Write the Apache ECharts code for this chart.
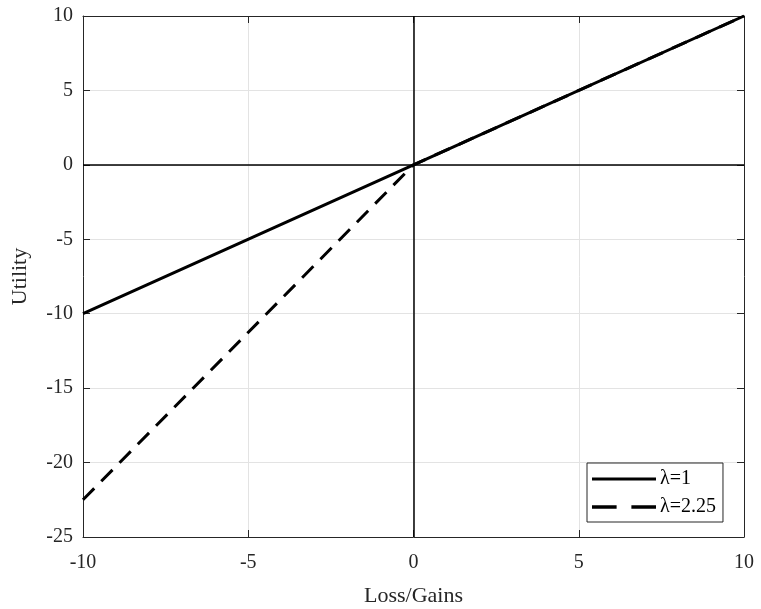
<!DOCTYPE html>
<html>
<head>
<meta charset="utf-8">
<script src="https://cdn.jsdelivr.net/npm/echarts@6/dist/echarts.min.js"></script>
<style>
  html, body { margin: 0; padding: 0; background: #fff; }
  #main { width: 761px; height: 609px; }
</style>
</head>
<body>
<div id="main"></div>
<script>
// data
var gains = [-10, 0, 10];
var utilityLambda1 = [-10, 0, 10];
var utilityLambda225 = [-22.5, 0, 10];
var seriesNames = ['\u03bb=1', '\u03bb=2.25'];

var font = 'Liberation Serif';
var dark = '#262626';

function pairs(xs, ys) {
  return xs.map(function (x, i) { return [x, ys[i]]; });
}

var chart = echarts.init(document.getElementById('main'));

var tickStyle = { show: true, inside: true, length: 7, lineStyle: { color: dark, width: 1 } };

var option = {
  animation: false,
  backgroundColor: '#fff',
  grid: { left: 83, right: 17, top: 16, bottom: 72, containLabel: false, outerBoundsMode: 'none' },
  legend: {
    orient: 'vertical',
    left: 587,
    top: 463,
    padding: [6, 7, 5, 5],
    itemGap: 8,
    itemWidth: 64,
    itemHeight: 16,
    borderColor: dark,
    borderWidth: 1,
    borderRadius: 0,
    backgroundColor: '#fff',
    textStyle: { fontFamily: font, fontSize: 20, color: '#000', padding: [0, 0, 0, -1] },
    data: [
      { name: seriesNames[0], icon: 'path://M0,7 L64,7 L64,10 L0,10 Z' },
      { name: seriesNames[1], icon: 'path://M0,7 L20,7 L20,10 L0,10 Z M32,7 L52,7 L52,10 L32,10 Z' }
    ]
  },
  xAxis: [
    {
      type: 'value', min: -10, max: 10, interval: 5, position: 'bottom',
      name: 'Loss/Gains', nameLocation: 'middle', nameGap: 48,
      nameTextStyle: { fontFamily: font, fontSize: 22, color: dark },
      axisLine: { show: true, onZero: false, lineStyle: { color: dark, width: 1 } },
      axisTick: tickStyle,
      axisLabel: { fontFamily: font, fontSize: 20, color: dark, margin: 16 },
      splitLine: { show: true, lineStyle: { color: '#e3e3e3', width: 1 } }
    },
    {
      type: 'value', min: -10, max: 10, interval: 5, position: 'top',
      axisLine: { show: true, onZero: false, lineStyle: { color: dark, width: 1 } },
      axisTick: tickStyle,
      axisLabel: { show: false },
      splitLine: { show: false }
    }
  ],
  yAxis: [
    {
      type: 'value', min: -25, max: 10, interval: 5, position: 'left',
      name: 'Utility', nameLocation: 'middle', nameGap: 52,
      nameTextStyle: { fontFamily: font, fontSize: 22, color: dark },
      axisLine: { show: true, onZero: false, lineStyle: { color: dark, width: 1 } },
      axisTick: tickStyle,
      axisLabel: { fontFamily: font, fontSize: 20, color: dark, margin: 10 },
      splitLine: { show: true, lineStyle: { color: '#e3e3e3', width: 1 } }
    },
    {
      type: 'value', min: -25, max: 10, interval: 5, position: 'right',
      axisLine: { show: true, onZero: false, lineStyle: { color: dark, width: 1 } },
      axisTick: tickStyle,
      axisLabel: { show: false },
      splitLine: { show: false }
    }
  ],
  series: [
    {
      name: seriesNames[0],
      type: 'line',
      data: pairs(gains, utilityLambda1),
      showSymbol: false,
      symbol: 'none',
      z: 5,
      lineStyle: { color: '#000', width: 3 },
      itemStyle: { color: '#000' },
      markLine: {
        silent: true,
        symbol: 'none',
        label: { show: false },
        lineStyle: { color: '#000', width: 1.5, type: 'solid' },
        data: [{ xAxis: 0 }, { yAxis: 0 }]
      }
    },
    {
      name: seriesNames[1],
      type: 'line',
      data: pairs(gains, utilityLambda225),
      showSymbol: false,
      symbol: 'none',
      z: 4,
      lineStyle: { color: '#000', width: 3, type: [16, 10] },
      itemStyle: { color: '#000' }
    }
  ]
};

chart.setOption(option);
</script>
</body>
</html>
